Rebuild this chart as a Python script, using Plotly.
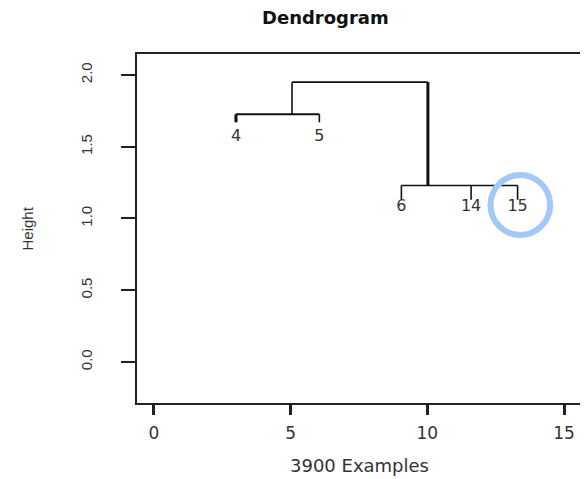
import plotly.graph_objects as go

# ---- data ----
leaf_labels = ["4", "5", "6", "14", "15"]
leaf_x = [3.0, 6.05, 9.05, 11.6, 13.3]
leaf_bottom = [1.67, 1.67, 1.13, 1.13, 1.13]   # lower end of leaf stems
label_y = [1.57, 1.57, 1.08, 1.08, 1.08]
left_merge_h = 1.726     # merge of 4 and 5
left_merge_x = 5.05
right_merge_h = 1.23     # merge of 6, 14, 15
right_merge_x = 10.02
top_merge_h = 1.95

x_ticks = [0, 5, 10, 15]
y_ticks = [0.0, 0.5, 1.0, 1.5, 2.0]
y_ticktext = ["0.0", "0.5", "1.0", "1.5", "2.0"]

title = "Dendrogram"
x_title = "3900 Examples"
y_title = "Height"

LINE = "#111111"
fig = go.Figure()

def seg(xs, ys, w):
    fig.add_trace(go.Scatter(x=xs, y=ys, mode="lines",
                             line=dict(color=LINE, width=w),
                             hoverinfo="skip", showlegend=False))

# left cluster
seg([leaf_x[0], leaf_x[0]], [leaf_bottom[0], left_merge_h], 3)
seg([leaf_x[1], leaf_x[1]], [leaf_bottom[1], left_merge_h], 1.6)
seg([leaf_x[0], leaf_x[1]], [left_merge_h, left_merge_h], 2)
seg([left_merge_x, left_merge_x], [left_merge_h, top_merge_h], 1.6)
# top
seg([left_merge_x, right_merge_x], [top_merge_h, top_merge_h], 1.6)
seg([right_merge_x, right_merge_x], [right_merge_h, top_merge_h], 3)
# right cluster
seg([leaf_x[2], leaf_x[4]], [right_merge_h, right_merge_h], 1.6)
for i in (2, 3, 4):
    seg([leaf_x[i], leaf_x[i]], [leaf_bottom[i], right_merge_h], 1.6)

# leaf labels
fig.add_trace(go.Scatter(x=leaf_x, y=label_y, mode="text", text=leaf_labels,
                         textfont=dict(family="DejaVu Sans", size=16, color="#333333"),
                         hoverinfo="skip", showlegend=False))

# highlight circle around leaf 15
cx, cy = leaf_x[4] + 0.1, 1.094
rx, ry = 1.09, 0.209
fig.add_shape(type="circle", xref="x", yref="y",
              x0=cx - rx, x1=cx + rx, y0=cy - ry, y1=cy + ry,
              line=dict(color="#a3c9f7", width=6), layer="above")

axis_common = dict(showgrid=False, zeroline=False, showline=True, mirror=True,
                   linecolor="#222222", linewidth=1.5, ticks="outside",
                   tickcolor="#222222")

fig.update_xaxes(range=[-0.62, 15.62], tickvals=x_ticks, ticklen=10, tickwidth=3,
                 ticklabelstandoff=4,
                 tickfont=dict(family="DejaVu Sans", size=17, color="#333333"),
                 **axis_common)
fig.update_yaxes(range=[-0.286, 2.146], tickvals=y_ticks, ticktext=y_ticktext,
                 tickangle=-90, ticklen=14, tickwidth=2, ticklabelstandoff=23,
                 tickfont=dict(family="Liberation Sans", size=15, color="#333333"),
                 **axis_common)

# the page body has an 8px margin, so the figure is sized to fit the window
fig.update_layout(
    width=580, height=471,
    margin=dict(l=129, r=5, t=46, b=76),
    paper_bgcolor="white", plot_bgcolor="white",
    annotations=[
        dict(text=f"<b>{title}</b>", xref="paper", yref="paper", x=0.424, y=1.106,
             xanchor="center", yanchor="middle", showarrow=False,
             font=dict(family="DejaVu Sans", size=18, color="#111111")),
        dict(text=x_title, xref="paper", yref="paper", x=0.5, y=-0.18,
             xanchor="center", yanchor="middle", showarrow=False,
             font=dict(family="DejaVu Sans", size=18, color="#333333")),
        dict(text=y_title, xref="paper", yref="paper", x=-0.247, y=0.501,
             xanchor="center", yanchor="middle", showarrow=False, textangle=-90,
             font=dict(family="Liberation Sans", size=15, color="#333333")),
    ],
)

fig.write_html("out.html")
